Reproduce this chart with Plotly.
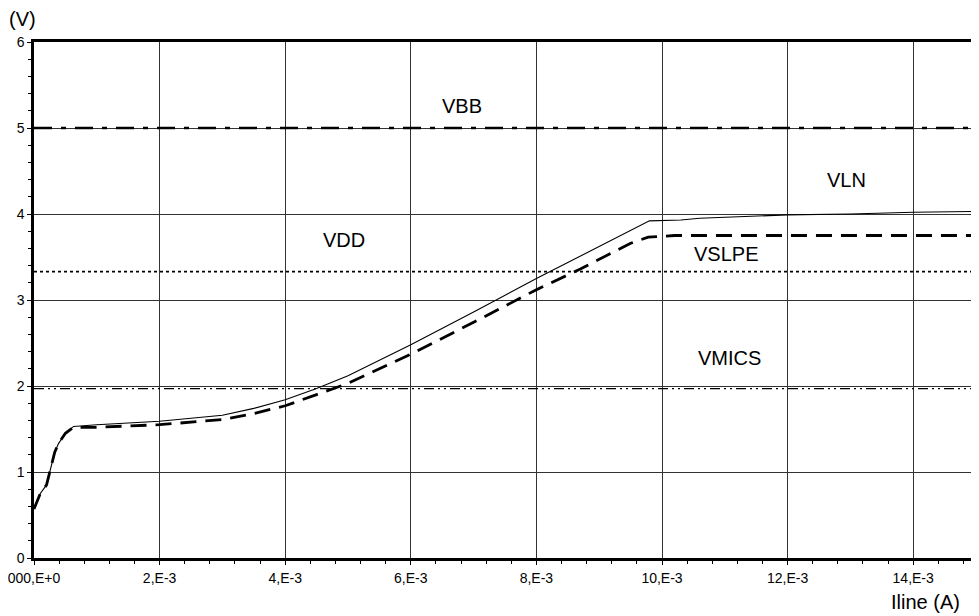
import plotly.graph_objects as go

# ---- data ----
x_vln = [0.0, 0.0001, 0.0002, 0.00025, 0.00033, 0.00039, 0.0005, 0.00063, 0.001, 0.002, 0.003,
         0.0035, 0.004, 0.0045, 0.005, 0.006, 0.007, 0.008, 0.009, 0.0095, 0.0098, 0.0103,
         0.0106, 0.012, 0.013, 0.014, 0.015]
y_vln = [0.57, 0.75, 0.85, 1.0, 1.23, 1.33, 1.45, 1.53, 1.55, 1.59, 1.66,
         1.74, 1.84, 1.97, 2.12, 2.48, 2.86, 3.25, 3.62, 3.81, 3.92, 3.93,
         3.95, 3.99, 4.00, 4.02, 4.03]

x_vslpe = [0.0, 0.0001, 0.0002, 0.00025, 0.00033, 0.00039, 0.0005, 0.00063, 0.001, 0.002, 0.003,
           0.0035, 0.004, 0.0045, 0.005, 0.006, 0.007, 0.008, 0.0087, 0.0095, 0.00978, 0.0102, 0.015]
y_vslpe = [0.57, 0.75, 0.85, 1.0, 1.23, 1.33, 1.45, 1.52, 1.52, 1.55, 1.61,
           1.68, 1.77, 1.90, 2.03, 2.37, 2.74, 3.12, 3.36, 3.66, 3.73, 3.75, 3.75]

x_range = [0.0, 0.015]
vbb = 5.0
vdd = 3.33
vmics = 1.97

x_tickvals = [0.0, 0.002, 0.004, 0.006, 0.008, 0.010, 0.012, 0.014]
x_ticktext = ["000,E+0", "2,E-3", "4,E-3", "6,E-3", "8,E-3", "10,E-3", "12,E-3", "14,E-3"]
y_tickvals = [0, 1, 2, 3, 4, 5, 6]

labels = ["VBB", "VDD", "VLN", "VSLPE", "VMICS"]
label_x = [0.00681, 0.00493, 0.01293, 0.01102, 0.01108]
label_y = [5.26, 3.70, 4.40, 3.53, 2.33]

FONT = "Liberation Sans, Arial, sans-serif"

fig = go.Figure()

fig.add_trace(go.Scatter(x=x_range, y=[vbb, vbb], mode="lines",
                         line=dict(color="black", width=2.6, dash="18px,9px,5px,9px"),
                         showlegend=False, hoverinfo="skip"))
fig.add_trace(go.Scatter(x=x_range, y=[vdd, vdd], mode="lines",
                         line=dict(color="black", width=1.6, dash="3px,3px"),
                         showlegend=False, hoverinfo="skip"))
fig.add_trace(go.Scatter(x=x_range, y=[vmics, vmics], mode="lines",
                         line=dict(color="black", width=1.4, dash="10px,4px,2px,4px,2px,4px"),
                         showlegend=False, hoverinfo="skip"))
fig.add_trace(go.Scatter(x=x_vslpe, y=y_vslpe, mode="lines",
                         line=dict(color="black", width=2.8, dash="16px,9px"),
                         showlegend=False))
fig.add_trace(go.Scatter(x=x_vln, y=y_vln, mode="lines",
                         line=dict(color="black", width=1.1),
                         showlegend=False))

for t, lx, ly in zip(labels, label_x, label_y):
    fig.add_annotation(x=lx, y=ly, text=t, showarrow=False,
                       font=dict(family=FONT, size=20, color="black"))

fig.add_annotation(xref="paper", yref="paper", x=-0.0117, y=1.0, yshift=23,
                   xanchor="center", yanchor="middle", text="(V)", showarrow=False,
                   font=dict(family=FONT, size=20, color="black"))
fig.add_annotation(xref="paper", yref="paper", x=0.946, y=0.0, yshift=-44,
                   xanchor="center", yanchor="middle", text="Iline (A)", showarrow=False,
                   font=dict(family=FONT, size=20, color="black"))

fig.update_layout(
    width=971, height=608,
    margin=dict(l=26, r=3, t=34, b=58, autoexpand=False),
    paper_bgcolor="white", plot_bgcolor="white",
    font=dict(family=FONT, size=14, color="black"),
    xaxis=dict(range=x_range, tickmode="array", tickvals=x_tickvals, ticktext=x_ticktext,
               automargin=False, ticklabelstandoff=1, ticklabeloverflow="allow",
               showgrid=True, gridcolor="#333", gridwidth=1, zeroline=False,
               showline=True, linecolor="black", linewidth=2.5, mirror=True,
               ticks="outside", ticklen=4, tickcolor="black", tickwidth=1,
               tickfont=dict(family=FONT, size=14),
               minor=dict(tickmode="linear", tick0=0, dtick=0.0004, ticks="outside",
                          ticklen=3, tickcolor="black", showgrid=False)),
    yaxis=dict(range=[0, 6], tickmode="array", tickvals=y_tickvals,
               automargin=False, ticklabeloverflow="allow",
               showgrid=True, gridcolor="#333", gridwidth=1, zeroline=False,
               showline=True, linecolor="black", linewidth=2.5, mirror=True,
               ticks="outside", ticklen=4, tickcolor="black", tickwidth=1,
               tickfont=dict(family=FONT, size=14),
               minor=dict(tickmode="linear", tick0=0, dtick=0.2, ticks="outside",
                          ticklen=3, tickcolor="black", showgrid=False)),
)

fig.write_html("out.html")
